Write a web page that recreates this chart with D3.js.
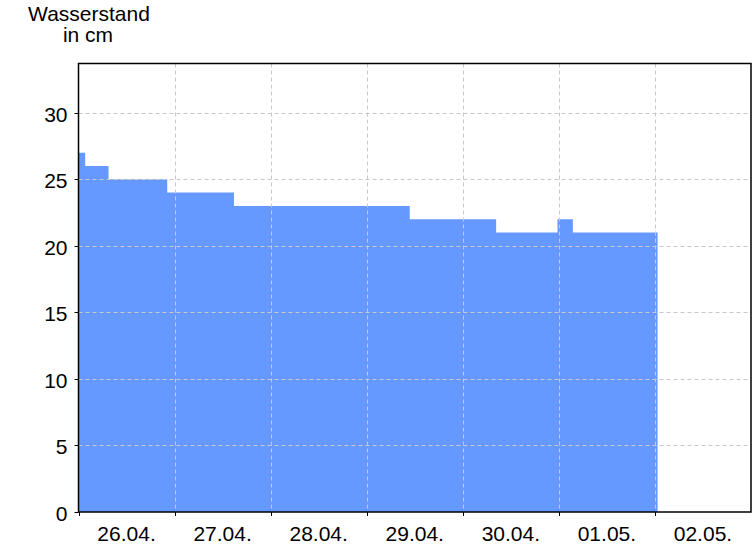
<!DOCTYPE html>
<html><head><meta charset="utf-8">
<script src="https://cdn.jsdelivr.net/npm/d3@7"></script>
<style>body{margin:0;background:#fff}svg{display:block}text{font-family:"Liberation Sans",Arial,sans-serif;fill:#000}</style>
</head><body><svg id="c" width="756" height="546"></svg>
<script>
// Data
const times = ["2024-04-26T00:00","2024-04-26T01:40","2024-04-26T07:30","2024-04-26T22:10","2024-04-27T14:50","2024-04-29T10:45","2024-04-30T08:20","2024-04-30T23:40","2024-05-01T03:30","2024-05-02T00:40"];
const levels = [27,26,25,24,23,22,21,22,21,21];
const dayTicks = ["2024-04-26","2024-04-27","2024-04-28","2024-04-29","2024-04-30","2024-05-01","2024-05-02","2024-05-03"];
const dayLabels = ["26.04.","27.04.","28.04.","29.04.","30.04.","01.05.","02.05."];
const yTicks = [0,5,10,15,20,25,30];
const yLabel = ["Wasserstand","in cm"];

const parseT = d3.utcParse("%Y-%m-%dT%H:%M");
const parseD = d3.utcParse("%Y-%m-%d");
const data = times.map((t,i)=>({t:parseT(t), v:levels[i]}));
const days = dayTicks.map(parseD);

const L=78.5, R=751, T=63.5, B=512;
const FS=21;
const svg=d3.select("#c");
const x=d3.scaleUtc().domain([days[0],days[days.length-1]]).range([L,R]);
const y=d3.scaleLinear().domain([0,33.7]).range([B,T]);

// area
const area=d3.area().x(d=>x(d.t)).y0(y(0)).y1(d=>y(d.v)).curve(d3.curveStepAfter);
svg.append("path").datum(data).attr("d",area).attr("fill","#6699ff");

// grid
const g=svg.append("g").attr("stroke","#c8c8c8").attr("stroke-dasharray","4,3").attr("stroke-width",1);
yTicks.filter(v=>v>0).forEach(v=>{
  const yy=Math.round(y(v))+0.5;
  g.append("line").attr("x1",L).attr("x2",R).attr("y1",yy).attr("y2",yy);
});
days.slice(1,-1).forEach(d=>{
  const xx=Math.round(x(d))+0.5;
  g.append("line").attr("x1",xx).attr("x2",xx).attr("y1",T).attr("y2",B);
});

// y axis ticks + labels
yTicks.forEach(v=>{
  const yy=Math.round(y(v))+0.5;
  svg.append("line").attr("x1",L-4).attr("x2",L).attr("y1",yy).attr("y2",yy).attr("stroke","#000");
  svg.append("text").attr("x",L-11).attr("y",yy+8).attr("text-anchor","end").attr("font-size",FS).text(v);
});
// x ticks
days.slice(0,-1).forEach(d=>{
  const xx=Math.round(x(d))+0.5;
  svg.append("line").attr("x1",xx).attr("x2",xx).attr("y1",B).attr("y2",B+4).attr("stroke","#000");
});
dayLabels.forEach((lab,i)=>{
  const mid=new Date((days[i].getTime()+days[i+1].getTime())/2);
  svg.append("text").attr("x",x(mid)).attr("y",541).attr("text-anchor","middle").attr("font-size",FS).text(lab);
});

// frame
svg.append("rect").attr("x",L).attr("y",T).attr("width",R-L).attr("height",B-T).attr("fill","none").attr("stroke","#000").attr("stroke-width",1.5);

// title
svg.append("text").attr("x",89).attr("y",21).attr("text-anchor","middle").attr("font-size",FS).text(yLabel[0]);
svg.append("text").attr("x",88).attr("y",42).attr("text-anchor","middle").attr("font-size",FS).text(yLabel[1]);
</script></body></html>
